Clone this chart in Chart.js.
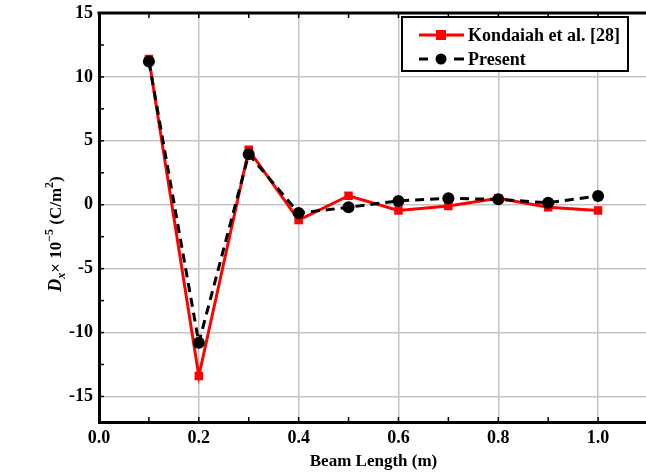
<!DOCTYPE html>
<html><head><meta charset="utf-8">
<script src="https://cdn.jsdelivr.net/npm/chart.js@4/dist/chart.umd.min.js"></script>
<style>
html,body{margin:0;padding:0;overflow:hidden;background:#fff}
canvas{display:block}
</style>
</head><body>
<canvas id="c" width="648" height="476" style="width:648px;height:476px"></canvas>
<script>
// ---- data ----
const beamLength = [0.1, 0.2, 0.3, 0.4, 0.5, 0.6, 0.7, 0.8, 0.9, 1.0];
const kondaiah  = [11.4, -13.4, 4.3, -1.2, 0.7, -0.45, -0.1, 0.5, -0.2, -0.45];
const present   = [11.2, -10.8, 3.95, -0.65, -0.2, 0.3, 0.5, 0.42, 0.15, 0.68];
const xTickValues = [0.0, 0.2, 0.4, 0.6, 0.8, 1.0];
const yTickValues = [-15, -10, -5, 0, 5, 10, 15];
const seriesNames = ['Kondaiah et al. [28]', 'Present'];
const xTitle = 'Beam Length (m)';

const FONT = '"Liberation Serif", "Times New Roman", serif';

const toPts = (ys) => beamLength.map((x, i) => ({x: x, y: ys[i]}));

// Custom drawing: top frame, inward minor ticks, y title with sub/superscripts, boxed legend
const decor = {
  id: 'decor',
  afterDraw(chart) {
    const ctx = chart.ctx, a = chart.chartArea;
    const xs = chart.scales.x, ys = chart.scales.y;
    ctx.save();
    // top frame
    ctx.strokeStyle = '#000'; ctx.lineWidth = 3;
    ctx.beginPath(); ctx.moveTo(a.left - 1.5, a.top); ctx.lineTo(a.right, a.top); ctx.stroke();
    // inward ticks
    ctx.lineWidth = 1.5;
    for (let v = 0; v <= 1.1001; v += 0.1) {
      const px = xs.getPixelForValue(v);
      ctx.beginPath(); ctx.moveTo(px, a.bottom); ctx.lineTo(px, a.bottom - 5); ctx.stroke();
      ctx.beginPath(); ctx.moveTo(px, a.top); ctx.lineTo(px, a.top + 5); ctx.stroke();
    }
    for (let v = -17.5; v <= 15.001; v += 2.5) {
      if (v < -17) continue;
      const py = ys.getPixelForValue(v);
      ctx.beginPath(); ctx.moveTo(a.left, py); ctx.lineTo(a.left + 5, py); ctx.stroke();
    }
    // y-axis title
    ctx.translate(55, 234);
    ctx.rotate(-Math.PI / 2);
    ctx.fillStyle = '#000';
    ctx.textBaseline = 'alphabetic';
    const parts = [
      {t: 'D', f: 'italic bold 18px ' + FONT, dy: 0},
      {t: 'x', f: 'italic bold 12px ' + FONT, dy: 4},
      {t: '\u00d7 10', f: 'bold 17px ' + FONT, dy: 0},
      {t: '\u22125', f: 'bold 12px ' + FONT, dy: -8},
      {t: ' (C/m', f: 'bold 17px ' + FONT, dy: 0},
      {t: '2', f: 'bold 12px ' + FONT, dy: -8},
      {t: ')', f: 'bold 17px ' + FONT, dy: 0}
    ];
    let total = 0;
    parts.forEach(p => { ctx.font = p.f; p.w = ctx.measureText(p.t).width; total += p.w; });
    let cx = -total / 2;
    parts.forEach(p => { ctx.font = p.f; ctx.fillText(p.t, cx, 6 + p.dy); cx += p.w; });
    ctx.restore();

    // legend
    ctx.save();
    const bx = 402, by = 17, bw = 226, bh = 54;
    ctx.fillStyle = '#fff'; ctx.fillRect(bx, by, bw, bh);
    ctx.strokeStyle = '#000'; ctx.lineWidth = 2;
    ctx.strokeRect(bx, by, bw, bh);
    ctx.font = 'bold 18px ' + FONT;
    ctx.textBaseline = 'middle';
    const rows = [35, 59];
    chart.data.datasets.forEach((ds, i) => {
      const ry = rows[i];
      ctx.strokeStyle = ds.borderColor; ctx.lineWidth = ds.borderWidth;
      ctx.beginPath();
      if (ds.borderDash) {
        ctx.moveTo(419, ry); ctx.lineTo(428, ry); ctx.moveTo(454, ry); ctx.lineTo(464, ry);
      } else {
        ctx.moveTo(419, ry); ctx.lineTo(464, ry);
      }
      ctx.stroke();
      ctx.fillStyle = ds.pointBackgroundColor;
      if (ds.pointStyle === 'rect') {
        ctx.fillRect(441 - 5, ry - 5, 10, 10);
      } else {
        ctx.beginPath(); ctx.arc(441, ry, 5.5, 0, Math.PI * 2); ctx.fill();
      }
      ctx.fillStyle = '#000';
      ctx.fillText(ds.label, 468, ry + 1);
    });
    ctx.restore();
  }
};

new Chart(document.getElementById('c'), {
  type: 'line',
  data: {
    datasets: [
      {
        label: seriesNames[0], data: toPts(kondaiah),
        borderColor: '#ff0000', backgroundColor: '#ff0000',
        pointBackgroundColor: '#ff0000', pointBorderColor: '#ff0000',
        borderWidth: 3, pointStyle: 'rect', pointRadius: 6, pointBorderWidth: 0,
        order: 2, tension: 0
      },
      {
        label: seriesNames[1], data: toPts(present),
        borderColor: '#000000', backgroundColor: '#000000',
        pointBackgroundColor: '#000000', pointBorderColor: '#000000',
        borderWidth: 3, borderDash: [9, 6], pointStyle: 'circle', pointRadius: 6, pointBorderWidth: 0,
        order: 1, tension: 0
      }
    ]
  },
  options: {
    responsive: false, maintainAspectRatio: false, animation: false,
    devicePixelRatio: 1,
    layout: {autoPadding: false, padding: {top: 13, left: 0, right: 0, bottom: 0}},
    plugins: {legend: {display: false}, tooltip: {enabled: false}},
    scales: {
      x: {
        type: 'linear', min: 0, max: 1.1,
        afterBuildTicks: (s) => { s.ticks = xTickValues.map(v => ({value: v})); },
        afterFit: (s) => { s.height = 54; s.paddingLeft = 0; s.paddingRight = 0; },
        grid: {color: '#c4c4c4', lineWidth: 1.5, drawTicks: false},
        border: {color: '#000', width: 3},
        ticks: {
          color: '#000', padding: 6, maxRotation: 0,
          font: {family: FONT, size: 18, weight: 'bold'},
          callback: (v) => Number(v).toFixed(1)
        },
        title: {display: true, text: xTitle, color: '#000', padding: {top: 0},
                font: {family: FONT, size: 17, weight: 'bold'}}
      },
      y: {
        type: 'linear', min: -17, max: 15,
        afterBuildTicks: (s) => { s.ticks = yTickValues.map(v => ({value: v})); },
        afterFit: (s) => { s.width = 99; s.paddingTop = 0; s.paddingBottom = 0; },
        grid: {color: '#c4c4c4', lineWidth: 1.5, drawTicks: false},
        border: {color: '#000', width: 3},
        ticks: {
          color: '#000', padding: 6,
          font: {family: FONT, size: 18, weight: 'bold'},
          callback: (v) => String(v)
        }
      }
    }
  },
  plugins: [decor]
});
</script>
</body></html>
